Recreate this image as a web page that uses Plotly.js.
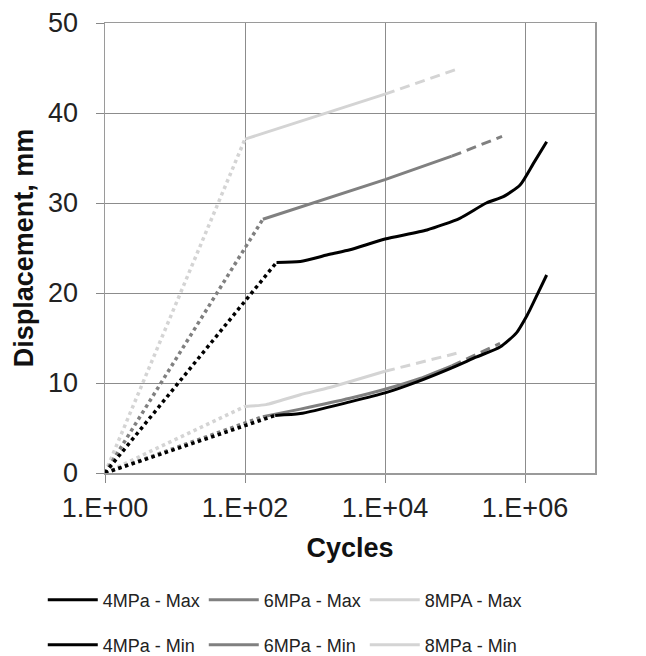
<!DOCTYPE html>
<html>
<head>
<meta charset="utf-8">
<script src="https://cdn.plot.ly/plotly-3.0.1.min.js"></script>
<style>html,body{margin:0;padding:0;background:#fff;}</style>
</head>
<body>
<div id="chart" style="width:646px;height:656px;"></div>
<script>
// ---- Data ----
const xTickVals = [1, 100, 10000, 1000000];
const xTickText = ['1.E+00', '1.E+02', '1.E+04', '1.E+06'];

// 8 MPa - Max
const max8DotCycles = [1, 100];
const max8DotDisp = [0, 37.1];
const max8Cycles = [100, 1000, 10000];
const max8Disp = [37.1, 39.6, 42.1];
const max8DashCycles = [10000, 100000];
const max8DashDisp = [42.1, 44.8];

// 6 MPa - Max
const max6DotCycles = [1, 180];
const max6DotDisp = [0, 28.2];
const max6Cycles = [180, 1000, 10000, 90000];
const max6Disp = [28.2, 30.1, 32.6, 35.2];
const max6DashCycles = [90000, 470000];
const max6DashDisp = [35.2, 37.4];

// 4 MPa - Max
const max4DotCycles = [1, 282];
const max4DotDisp = [0, 23.4];
const max4Cycles = [282, 617, 1620, 3160, 10000, 39800, 117000, 280000, 490000, 850000, 1320000, 2040000];
const max4Disp = [23.4, 23.5, 24.3, 24.8, 26.0, 27.0, 28.3, 30.0, 30.7, 32.0, 34.4, 36.8];

// 8 MPa - Min
const min8DotCycles = [1, 100];
const min8DotDisp = [0, 7.4];
const min8Cycles = [100, 200, 617, 1620, 10000];
const min8Disp = [7.4, 7.6, 8.7, 9.5, 11.3];
const min8DashCycles = [10000, 105000];
const min8DashDisp = [11.3, 13.3];

// 6 MPa - Min
const min6DotCycles = [1, 180];
const min6DotDisp = [0, 6.26];
const min6Cycles = [180, 617, 3160, 10000, 31600, 90000];
const min6Disp = [6.26, 7.1, 8.3, 9.3, 10.5, 11.9];
const min6DashCycles = [90000, 440000];
const min6DashDisp = [11.9, 14.4];

// 4 MPa - Min
const min4DotCycles = [1, 270];
const min4DotDisp = [0, 6.4];
const min4Cycles = [270, 617, 3160, 10000, 28000, 85000, 204000, 440000, 760000, 1050000, 1170000, 2040000];
const min4Disp = [6.4, 6.6, 7.9, 8.9, 10.1, 11.6, 12.9, 14.0, 15.6, 17.4, 18.1, 22.0];

// ---- Styles ----
const C4 = '#000000', C6 = '#808080', C8 = '#d4d4d4';
const LW = 3;

function seg(x, y, color, dash, opts) {
  return Object.assign({
    x: x, y: y, type: 'scatter', mode: 'lines',
    line: {color: color, width: dash === 'dot' ? 3.5 : LW, dash: dash},
    showlegend: false, hoverinfo: 'skip'
  }, opts || {});
}
const spl = (c) => ({color: c, width: LW, shape: 'spline', smoothing: 0.6});

const traces = [
  // 8 MPa
  seg(max8DotCycles, max8DotDisp, C8, 'dot'),
  seg(max8DashCycles, max8DashDisp, C8, '10px,6px'),
  seg(max8Cycles, max8Disp, C8, 'solid', {name: '8MPA - Max', showlegend: true, legend: 'legend', legendrank: 3}),
  seg(min8DotCycles, min8DotDisp, C8, 'dot'),
  seg(min8DashCycles, min8DashDisp, C8, '10px,6px'),
  seg(min8Cycles, min8Disp, C8, 'solid', {name: '8MPa - Min', showlegend: true, legend: 'legend2', legendrank: 6, line: spl(C8)}),
  // 6 MPa
  seg(max6DotCycles, max6DotDisp, C6, 'dot'),
  seg(max6DashCycles, max6DashDisp, C6, '10px,6px'),
  seg(max6Cycles, max6Disp, C6, 'solid', {name: '6MPa - Max', showlegend: true, legend: 'legend', legendrank: 2}),
  seg(min6DotCycles, min6DotDisp, C6, 'dot'),
  seg(min6DashCycles, min6DashDisp, C6, '10px,6px'),
  seg(min6Cycles, min6Disp, C6, 'solid', {name: '6MPa - Min', showlegend: true, legend: 'legend2', legendrank: 5, line: spl(C6)}),
  // 4 MPa
  seg(max4DotCycles, max4DotDisp, C4, 'dot'),
  seg(max4Cycles, max4Disp, C4, 'solid', {name: '4MPa - Max', showlegend: true, legend: 'legend', legendrank: 1, line: spl(C4)}),
  seg(min4DotCycles, min4DotDisp, C4, 'dot'),
  seg(min4Cycles, min4Disp, C4, 'solid', {name: '4MPa - Min', showlegend: true, legend: 'legend2', legendrank: 4, line: spl(C4)})
];

const FONT = 'Liberation Sans, Arial, sans-serif';
const legendCommon = {
  orientation: 'h', xanchor: 'left', yanchor: 'middle',
  x: -0.127, entrywidth: 96, entrywidthmode: 'pixels', itemwidth: 50,
  font: {family: FONT, size: 18, color: '#222'},
  bgcolor: 'rgba(0,0,0,0)', itemclick: false
};

const layout = {
  width: 646, height: 656,
  margin: {l: 105, r: 51, t: 23, b: 183, autoexpand: false},
  paper_bgcolor: '#fff', plot_bgcolor: '#fff',
  font: {family: FONT, color: '#222'},
  xaxis: {
    type: 'log', range: [0, 7],
    tickvals: xTickVals, ticktext: xTickText,
    ticks: 'outside', ticklen: 8, tickcolor: '#888', tickwidth: 1,
    showgrid: true, gridcolor: '#8c8c8c', gridwidth: 1,
    showline: true, linecolor: '#9a9a9a', linewidth: 1.5, mirror: true,
    tickfont: {family: FONT, size: 27, color: '#222'},
    ticklabelstandoff: 2,
    title: {text: '<b>Cycles</b>', standoff: 16, font: {family: FONT, size: 27, color: '#111'}}
  },
  yaxis: {
    range: [0, 50], dtick: 10,
    ticks: 'outside', ticklen: 8, tickcolor: '#888', tickwidth: 1,
    showgrid: true, gridcolor: '#8c8c8c', gridwidth: 1, zeroline: false,
    showline: true, linecolor: '#9a9a9a', linewidth: 1.5, mirror: true,
    tickfont: {family: FONT, size: 27, color: '#222'},
    ticklabelstandoff: 12,
    title: {text: '<b>Displacement, mm</b>', standoff: 6, font: {family: FONT, size: 27, color: '#111'}}
  },
  legend: Object.assign({}, legendCommon, {y: (473 - 600) / 450}),
  legend2: Object.assign({}, legendCommon, {y: (473 - 645) / 450}),
  showlegend: true
};

Plotly.newPlot('chart', traces, layout, {displayModeBar: false, staticPlot: true});
</script>
</body>
</html>
